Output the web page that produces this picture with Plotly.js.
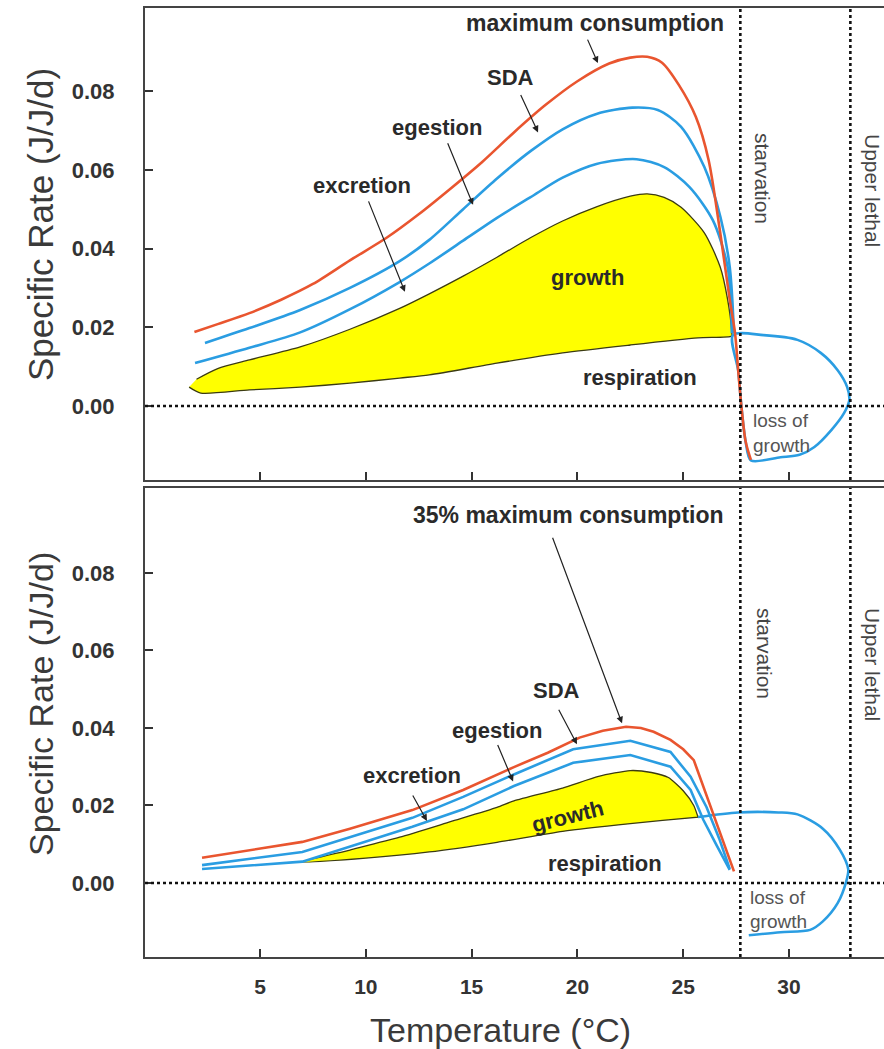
<!DOCTYPE html>
<html><head><meta charset="utf-8">
<script src="https://cdn.plot.ly/plotly-3.0.1.min.js"></script>
<style>html,body{margin:0;padding:0;background:#fff}#chart{width:884px;height:1049px}</style>
</head><body><div id="chart"></div>
<script>
// ===== Top panel: maximum consumption =====
const topRedT  = [1.9, 3.0, 4.5, 6.0, 7.5, 9.25, 11.0, 12.5, 14.0, 15.5, 17.0, 18.5, 20.0, 21.5, 22.5, 23.3, 24.0, 24.8, 25.6, 26.2, 26.75, 27.2, 27.45, 27.6, 27.75, 27.95, 28.2];
const topRedV  = [0.0188, 0.0208, 0.0236, 0.0270, 0.0310, 0.0370, 0.0428, 0.0487, 0.0552, 0.0620, 0.0695, 0.0765, 0.0825, 0.0870, 0.0885, 0.0887, 0.0872, 0.0815, 0.0734, 0.0625, 0.0440, 0.0270, 0.0185, 0.0090, 0.0000, -0.0090, -0.0137];
const topSdaT  = [2.4, 4.5, 6.9, 9.25, 11.6, 13.0, 14.6, 16.2, 17.8, 19.3, 20.9, 22.6, 23.8, 24.9, 26.0, 26.76, 27.2, 27.4];
const topSdaV  = [0.0160, 0.0198, 0.0244, 0.0300, 0.0368, 0.0422, 0.0500, 0.0578, 0.0648, 0.0703, 0.0742, 0.0758, 0.0752, 0.0709, 0.0607, 0.0480, 0.0353, 0.0185];
const topEgeT  = [1.93, 4.5, 6.9, 9.26, 11.6, 13.0, 14.6, 16.2, 17.77, 19.3, 20.9, 22.8, 24.1, 25.3, 26.4, 27.1, 27.3];
const topEgeV  = [0.0109, 0.0148, 0.0187, 0.0246, 0.0315, 0.0362, 0.0420, 0.0478, 0.0530, 0.0580, 0.0615, 0.0627, 0.0607, 0.0556, 0.0472, 0.0353, 0.0185];
const topGrowT = [2.0, 3.0, 4.5, 6.9, 9.25, 11.6, 13.0, 14.6, 16.2, 17.8, 19.3, 20.9, 22.5, 23.3, 24.1, 24.9, 26.0, 26.75, 27.1, 27.3];
const topGrowV = [0.0068, 0.0095, 0.0117, 0.0150, 0.0195, 0.0248, 0.0285, 0.0330, 0.0378, 0.0428, 0.0470, 0.0506, 0.0533, 0.0539, 0.0530, 0.0505, 0.0440, 0.0353, 0.0270, 0.0185];
const topRespT = [1.65, 2.2, 4.5, 6.9, 9.25, 11.6, 13.0, 16.2, 19.3, 22.5, 25.7, 27.3];
const topRespV = [0.0048, 0.0033, 0.0041, 0.0048, 0.0058, 0.0071, 0.0079, 0.0109, 0.0135, 0.0155, 0.0173, 0.0178];
const topLossT = [27.35, 28.8, 30.4, 31.5, 32.3, 32.75, 32.85, 32.6, 32.0, 31.2, 30.5, 29.6, 28.2, 27.95, 27.75, 27.6, 27.35];
const topLossV = [0.0180, 0.0180, 0.0168, 0.0135, 0.0091, 0.0048, 0.0015, -0.0018, -0.0061, -0.0104, -0.0124, -0.0130, -0.0138, -0.0090, 0.0000, 0.0090, 0.0180];

// ===== Bottom panel: 35% maximum consumption =====
const botRedT  = [2.26, 4.5, 7.0, 9.25, 12.2, 14.6, 17.0, 18.6, 20.1, 21.2, 22.3, 23.0, 23.6, 24.4, 25.0, 25.5, 26.4, 26.9, 27.4];
const botRedV  = [0.0065, 0.0085, 0.0106, 0.0140, 0.0188, 0.0240, 0.0299, 0.0336, 0.0375, 0.0393, 0.0403, 0.0400, 0.0390, 0.0369, 0.0345, 0.0317, 0.0180, 0.0104, 0.0030];
const botSdaT  = [2.26, 7.0, 12.2, 14.6, 17.0, 19.8, 22.5, 24.4, 25.35, 26.1, 26.7, 27.2];
const botSdaV  = [0.0046, 0.0080, 0.0168, 0.0222, 0.0280, 0.0345, 0.0367, 0.0338, 0.0274, 0.0196, 0.0115, 0.0036];
const botEgeT  = [2.26, 7.0, 12.2, 14.6, 17.0, 19.8, 22.5, 24.4, 25.35, 25.95, 26.6, 27.2];
const botEgeV  = [0.0036, 0.0055, 0.0145, 0.0190, 0.0250, 0.0310, 0.0330, 0.0300, 0.0240, 0.0163, 0.0095, 0.0034];
const botGrowT = [7.0, 9.25, 11.6, 14.0, 16.2, 17.0, 19.3, 21.0, 22.5, 23.5, 24.3, 25.0, 25.5, 25.7];
const botGrowV = [0.0054, 0.0085, 0.0118, 0.0158, 0.0195, 0.0212, 0.0245, 0.0275, 0.0290, 0.0285, 0.0272, 0.0238, 0.0200, 0.0170];
const botRespT = [7.0, 10.0, 13.0, 16.2, 19.3, 22.5, 25.7];
const botRespV = [0.0054, 0.0064, 0.0080, 0.0105, 0.0133, 0.0153, 0.0170];
const botLossT = [25.7, 27.6, 29.5, 30.4, 31.6, 32.4, 32.8, 32.7, 32.3, 31.6, 31.0, 29.6, 28.1];
const botLossV = [0.0170, 0.0182, 0.0182, 0.0177, 0.0140, 0.0086, 0.0035, 0.0003, -0.0052, -0.0099, -0.0121, -0.0127, -0.0135];

// thresholds and ticks
const starvationT = 27.7;
const upperLethalT = 32.9;
const xTicks = [5, 10, 15, 20, 25, 30];
const yTicks = [0, 0.02, 0.04, 0.06, 0.08];

const RED = '#E9552F', BLUE = '#2A9DE2', YELLOW = '#FFFF00', EDGE = '#3b3b12';
const FONT = 'Liberation Sans, Arial, Helvetica, sans-serif';

function poly(topT, topV, botT, botV) {
  return { x: topT.concat(botT.slice().reverse()), y: topV.concat(botV.slice().reverse()) };
}
const topPoly = poly(topGrowT, topGrowV, topRespT, topRespV);
const botPoly = poly(botGrowT, botGrowV, botRespT, botRespV);

function ln(x, y, color, xa, ya, shape) {
  return { type: 'scatter', mode: 'lines', x: x, y: y, xaxis: xa, yaxis: ya,
    line: { color: color, width: 2.6, shape: shape || 'spline', smoothing: 0.8 }, hoverinfo: 'skip', showlegend: false };
}

const traces = [
  { type: 'scatter', mode: 'lines', x: topPoly.x, y: topPoly.y, xaxis: 'x', yaxis: 'y', fill: 'toself',
    fillcolor: YELLOW, line: { color: EDGE, width: 1.3, shape: 'spline', smoothing: 0.7 }, showlegend: false, hoverinfo: 'skip' },
  ln(topLossT, topLossV, BLUE, 'x', 'y'),
  ln(topEgeT, topEgeV, BLUE, 'x', 'y'),
  ln(topSdaT, topSdaV, BLUE, 'x', 'y'),
  ln(topRedT, topRedV, RED, 'x', 'y'),
  { type: 'scatter', mode: 'lines', x: botPoly.x, y: botPoly.y, xaxis: 'x2', yaxis: 'y2', fill: 'toself',
    fillcolor: YELLOW, line: { color: EDGE, width: 1.3, shape: 'spline', smoothing: 0.6 }, showlegend: false, hoverinfo: 'skip' },
  ln(botLossT, botLossV, BLUE, 'x2', 'y2'),
  ln(botEgeT, botEgeV, BLUE, 'x2', 'y2', 'linear'),
  ln(botSdaT, botSdaV, BLUE, 'x2', 'y2', 'linear'),
  ln(botRedT, botRedV, RED, 'x2', 'y2', 'linear')
];

// pixel -> paper helpers for label placement
const PX = x => (x - 145) / 739;
const PY = y => (957 - y) / 949;

const boldF = (s) => ({ family: FONT, size: s || 22, color: '#2a2a2a', weight: 'bold' });
const thinF = (s, c) => ({ family: FONT, size: s || 21, color: c || '#454545' });
const titleF = (s) => ({ family: FONT, size: s, color: '#3a3a3a' });

function label(px, py, text, font, angle) {
  return { xref: 'paper', yref: 'paper', x: PX(px), y: PY(py), text: text, showarrow: false,
    xanchor: 'center', yanchor: 'middle', font: font, textangle: angle || 0 };
}
function arrow(xa, ya, tipT, tipV, dx, dy) {
  return { xref: xa, yref: ya, x: tipT, y: tipV, ax: dx, ay: dy, axref: 'pixel', ayref: 'pixel',
    text: '', showarrow: true, arrowhead: 2, arrowsize: 1.1, arrowwidth: 1.2, arrowcolor: '#222', standoff: 0, startstandoff: 0 };
}

const annotations = [
  // axis titles
  label(41, 225, 'Specific Rate (J/J/d)', titleF(35), -90),
  label(41, 704, 'Specific Rate (J/J/d)', titleF(34), -90),
  label(500, 1030, 'Temperature (°C)', titleF(34)),
  // top panel
  label(595, 23, 'maximum consumption', boldF(23)),
  label(510, 78, 'SDA', boldF()),
  label(437, 127, 'egestion', boldF()),
  label(362, 185, 'excretion', boldF()),
  label(587, 277, 'growth', boldF()),
  label(640, 377, 'respiration', boldF()),
  label(763, 178, 'starvation', thinF(), 90),
  label(873, 190, 'Upper lethal', thinF(), 90),
  label(781, 420, 'loss of', thinF(19, '#555')),
  label(781, 445, 'growth', thinF(19, '#555')),
  arrow('x', 'y', 20.97, 0.0871, -11, -25),
  arrow('x', 'y', 18.14, 0.0695, -18, -39),
  arrow('x', 'y', 15.07, 0.0511, -26, -63),
  arrow('x', 'y', 11.85, 0.0290, -37, -92),
  // bottom panel
  label(568, 515, '35% maximum consumption', boldF(23)),
  label(556, 690, 'SDA', boldF()),
  label(497, 730, 'egestion', boldF()),
  label(412, 775, 'excretion', boldF()),
  label(567, 816, 'growth', boldF(), -14),
  label(605, 863, 'respiration', boldF()),
  label(765, 653, 'starvation', thinF(), 90),
  label(873, 664, 'Upper lethal', thinF(), 90),
  label(778, 897, 'loss of', thinF(19, '#555')),
  label(778, 921, 'growth', thinF(19, '#555')),
  arrow('x2', 'y2', 22.11, 0.0412, -70, -187),
  arrow('x2', 'y2', 19.98, 0.0358, -19, -36),
  arrow('x2', 'y2', 16.96, 0.0262, -16, -38),
  arrow('x2', 'y2', 12.89, 0.0160, -15, -27)
];

const dotted = { color: '#111', width: 2.6, dash: 'dot' };
const shapes = [];
[['x', 'y'], ['x2', 'y2']].forEach(([xa, ya]) => {
  shapes.push({ type: 'line', xref: xa + ' domain', yref: ya, x0: 0, x1: 1, y0: 0, y1: 0, line: dotted });
  [starvationT, upperLethalT].forEach(t => {
    shapes.push({ type: 'line', xref: xa, yref: ya + ' domain', x0: t, x1: t, y0: 0, y1: 1, line: dotted });
  });
});

const xBase = {
  range: [-0.435, 34.49], tickvals: xTicks, ticks: 'inside', ticklen: 8, tickwidth: 2, tickcolor: '#333',
  showline: true, linecolor: '#444', linewidth: 2, mirror: true, showgrid: false, zeroline: false
};
const yBase = {
  tickvals: yTicks, tickformat: '.2f', ticks: 'inside', ticklen: 8, tickwidth: 2, tickcolor: '#333',
  showline: true, linecolor: '#444', linewidth: 2, mirror: false, showgrid: false, zeroline: false,
  tickfont: { family: FONT, size: 22, color: '#333', weight: 'bold' }, ticklabelstandoff: 24
};

const layout = {
  width: 884, height: 1049,
  margin: { l: 145, r: 0, t: 8, b: 92 },
  paper_bgcolor: '#fff', plot_bgcolor: '#fff', showlegend: false,
  xaxis: Object.assign({}, xBase, { anchor: 'y', showticklabels: false }),
  yaxis: Object.assign({}, yBase, { domain: [0.5026, 1], anchor: 'x', range: [-0.0188, 0.1011] }),
  xaxis2: Object.assign({}, xBase, { anchor: 'y2', showticklabels: true, ticklabelstandoff: 10,
    tickfont: { family: FONT, size: 21, color: '#333', weight: 'bold' } }),
  yaxis2: Object.assign({}, yBase, { domain: [0, 0.4942], anchor: 'x2', range: [-0.0191, 0.1019] }),
  annotations: annotations,
  shapes: shapes
};

Plotly.newPlot('chart', traces, layout, { staticPlot: true, displayModeBar: false });
</script>
</body></html>
